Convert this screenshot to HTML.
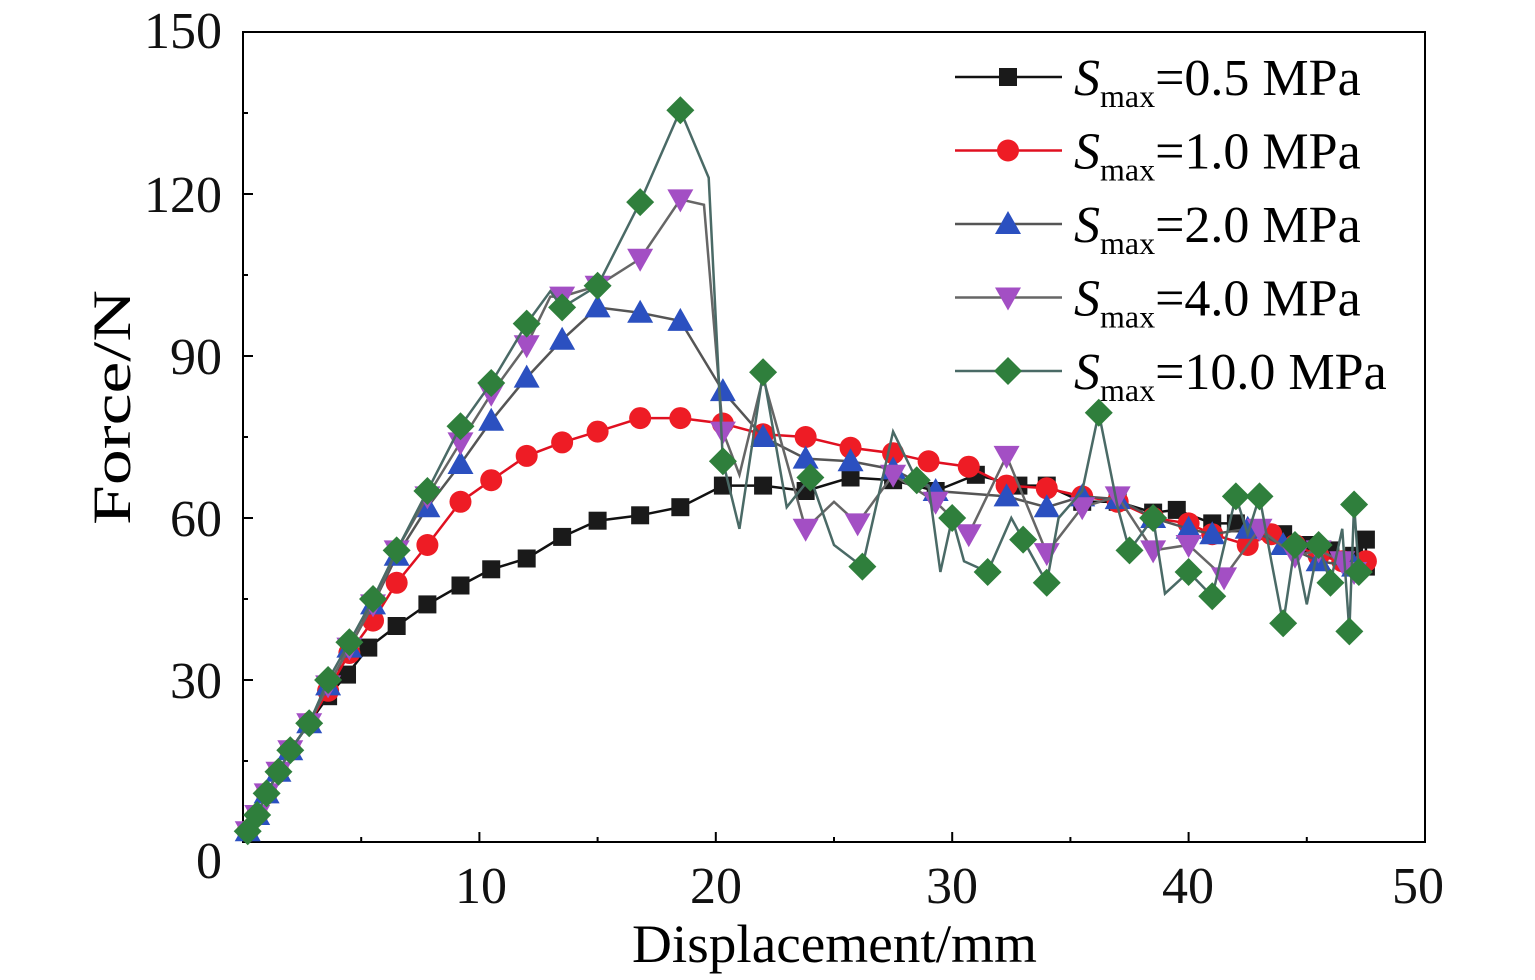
<!DOCTYPE html>
<html><head><meta charset="utf-8"><style>
html,body{margin:0;padding:0;background:#fff;}
svg{display:block;font-family:"Liberation Serif",serif;}
</style></head><body>
<svg id="s" width="1535" height="980" viewBox="0 0 1535 980" xmlns="http://www.w3.org/2000/svg">
<rect x="243" y="32" width="1182" height="810" fill="none" stroke="#000" stroke-width="2"/>
<g font-size="52" fill="#111" text-anchor="end">
<text x="222" y="878">0</text><text x="222" y="698">30</text><text x="222" y="536">60</text>
<text x="222" y="374">90</text><text x="222" y="212">120</text><text x="222" y="48">150</text>
</g>
<g font-size="52" fill="#111" text-anchor="middle">
<text x="481" y="903">10</text><text x="716" y="903">20</text><text x="952" y="903">30</text>
<text x="1188" y="903">40</text><text x="1418" y="903">50</text>
</g>
<text x="632" y="962" font-size="54" textLength="405" lengthAdjust="spacingAndGlyphs">Displacement/mm</text>
<text transform="translate(130,525) rotate(-90)" font-size="54" textLength="235" lengthAdjust="spacingAndGlyphs">Force/N</text>
<g id="ticks" stroke="#000" stroke-width="2"></g>
<g id="plot"></g>
<g id="leg"></g>
</svg>
<script>
const X=x=>243+x*23.64, Y=y=>842-y*5.4;
const t=document.getElementById('ticks');
let th="";
for(let i=0;i<=50;i+=10){th+=`<line x1="${X(i)}" y1="842" x2="${X(i)}" y2="832"/>`;}
for(let i=5;i<50;i+=10){th+=`<line x1="${X(i)}" y1="842" x2="${X(i)}" y2="837"/>`;}
for(let j=0;j<=150;j+=30){th+=`<line x1="243" y1="${Y(j)}" x2="253" y2="${Y(j)}"/>`;}
for(let j=15;j<150;j+=30){th+=`<line x1="243" y1="${Y(j)}" x2="248" y2="${Y(j)}"/>`;}
t.innerHTML=th;
const start=[[0.2,2],[0.6,5],[1,9],[1.5,13],[2,17],[2.8,22]];
const S=[
{c:"#1a1a1a",l:"#111",m:"sq",d:[...start,[3.6,27],[4.4,31],[5.3,36],[6.5,40],[7.8,44],[9.2,47.5],[10.5,50.5],[12,52.5],[13.5,56.5],[15,59.5],[16.8,60.5],[18.5,62],[20.3,66],[22,66],[23.8,65],[25.7,67.5],[27.5,67],[29.3,65],[31,68],[32.8,66],[34,66],[35.5,63],[37,63],[38.5,61],[39.5,61.5],[41,59],[42,59],[43,58],[44,57],[45,55],[46,54],[47,53],[47.5,56],[47.5,51]]},
{c:"#ee1c25",l:"#e01020",m:"ci",d:[...start,[3.6,28],[4.5,35],[5.5,41],[6.5,48],[7.8,55],[9.2,63],[10.5,67],[12,71.5],[13.5,74],[15,76],[16.8,78.5],[18.5,78.5],[20.3,77.5],[22,75.5],[23.8,75],[25.7,73],[27.5,72],[29,70.5],[30.7,69.5],[32.3,66],[34,65.5],[35.5,64],[37,63],[38.5,60],[40,59],[41,57],[42.5,55],[43.5,57],[44.5,55],[45.5,53],[46.5,52],[47.5,52]]},
{c:"#2b50c0",l:"#555",m:"tu",d:[...start,[3.6,29],[4.5,36],[5.5,44],[6.5,53],[7.8,62],[9.2,70],[10.5,78],[12,86],[13.5,93],[15,99],[16.8,98],[18.5,96.5],[20.3,83.5],[22,75],[23.8,71],[25.7,70.5],[27.5,69],[29.3,65],[32.3,64],[34,62],[35.5,64],[37,63.5],[38.5,60],[40,58],[41,57],[42.5,58],[44,55],[45.5,52],[47,51]]},
{c:"#a34fc4",l:"#666",m:"td",d:[...start,[3.6,29],[4.5,36],[5.5,44],[6.5,54],[7.8,64],[9.2,74],[10.5,83],[12,92],[13,101,0],[13.5,101],[15,103],[16.8,108],[18.5,119],[19.5,118,0],[20.3,76],[21,68,0],[22,86,0],[23.8,58],[25,63,0],[26,59],[27.5,68],[29.3,63],[30.7,57],[32.3,71.5],[34,53.5],[35.5,62],[37,64],[38.5,54],[40,55],[41.5,49],[43,58],[44.5,53],[45.5,54],[46.5,52],[47,50]]},
{c:"#2f7f3c",l:"#4a6a66",m:"di",d:[...start,[3.6,30],[4.5,37],[5.5,45],[6.5,54],[7.8,65],[9.2,77],[10.5,85],[12,96],[13,102,0],[13.5,99],[15,103],[16.8,118.5],[18.5,135.5],[19.7,123,0],[20.3,70.5],[21,58,0],[22,87],[23,62,0],[24,67.5],[25,55,0],[26.2,51],[27.5,76,0],[28.5,67],[29,66,0],[29.5,50,0],[30,60],[30.5,52,0],[31.5,50],[32.5,60,0],[33,56],[34,48],[34.5,60,0],[35.5,65,0],[36.2,79.5],[37,62,0],[37.5,54],[38.5,60],[39,46,0],[40,50],[41,45.5],[42,64],[42.5,57,0],[43,64],[43.5,52,0],[44,40.5],[44.5,55],[45,44,0],[45.5,55],[46,48],[46.5,58,0],[46.8,39],[47,62.5],[47.2,50]]}
];
function mk(m,x,y,c){
 if(m=="sq")return `<rect x="${x-9}" y="${y-9}" width="18" height="18" fill="${c}"/>`;
 if(m=="ci")return `<circle cx="${x}" cy="${y}" r="11" fill="${c}"/>`;
 if(m=="tu")return `<polygon points="${x},${y-13} ${x+13},${y+10} ${x-13},${y+10}" fill="${c}"/>`;
 if(m=="td")return `<polygon points="${x},${y+13} ${x+13},${y-10} ${x-13},${y-10}" fill="${c}"/>`;
 return `<polygon points="${x},${y-14} ${x+14},${y} ${x},${y+14} ${x-14},${y}" fill="${c}"/>`;
}
let h="";
S.forEach(s=>{
 h+=`<polyline fill="none" stroke="${s.l}" stroke-width="2.5" points="${s.d.map(p=>X(p[0])+','+Y(p[1])).join(' ')}"/>`;
 s.d.forEach(p=>{if(p[2]!==0)h+=mk(s.m,X(p[0]),Y(p[1]),s.c);});
});
document.getElementById('plot').innerHTML=h;
const labs=["0.5","1.0","2.0","4.0","10.0"];
let lg="";
S.forEach((s,i)=>{
 const y=77+i*73.5;
 lg+=`<line x1="955" y1="${y}" x2="1062" y2="${y}" stroke="${s.l}" stroke-width="2.5"/>`+mk(s.m,1008,y,s.c);
 lg+=`<text x="1074" y="${y+18}" font-size="52"><tspan font-style="italic">S</tspan><tspan font-size="32" dy="12">max</tspan><tspan dy="-12">=${labs[i]} MPa</tspan></text>`;
});
document.getElementById('leg').innerHTML=lg;
</script>
</body></html>
